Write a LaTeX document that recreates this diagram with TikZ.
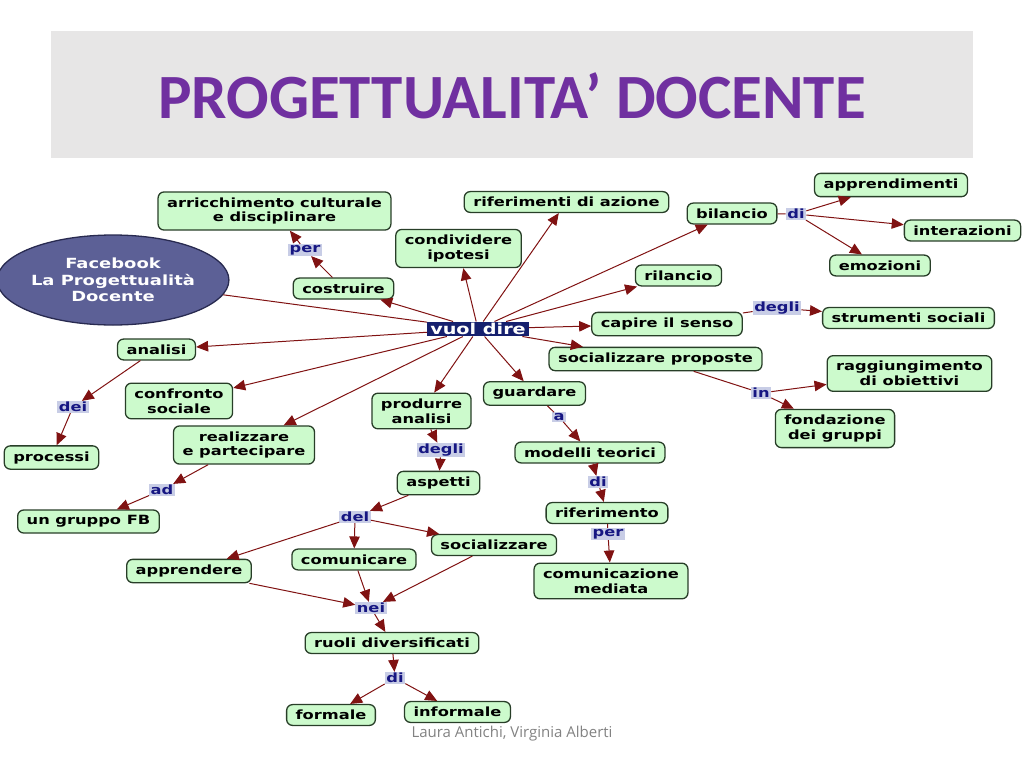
\documentclass[tikz,border=0pt]{standalone}
\usepackage{fontspec}
\usepackage{tikz}
\usetikzlibrary{arrows.meta,shapes.geometric}
\newfontface\mapfont{DejaVu Sans Bold}[FakeStretch=1.28]
\newfontfamily\titlefont{Carlito}
\newfontfamily\footfont{Open Sans}
\definecolor{titlegray}{RGB}{231,230,230}
\definecolor{titlepurple}{RGB}{112,48,160}
\definecolor{confill}{RGB}{204,250,204}
\definecolor{conborder}{RGB}{40,62,40}
\definecolor{linkred}{RGB}{128,18,18}
\definecolor{phrfill}{RGB}{200,205,230}
\definecolor{phrtext}{RGB}{22,22,130}
\definecolor{vuolfill}{RGB}{22,32,110}
\definecolor{fbfill}{RGB}{92,96,150}
\definecolor{fbborder}{RGB}{40,42,80}
\definecolor{footgray}{RGB}{130,130,130}
\tikzset{%
	concept/.style = {draw=conborder, fill=confill, rounded corners=6pt, line width=1.3pt, inner xsep=9pt, inner ysep=5.5pt, align=center, font=\mapfont\fontsize{12.7}{14.8}\selectfont},
	phrase/.style  = {fill=phrfill, text=phrtext, inner xsep=1.5pt, inner ysep=1pt, font=\mapfont\fontsize{12.7}{12.7}\selectfont},
	vuolbox/.style = {fill=vuolfill, text=white, inner xsep=3pt, inner ysep=1.5pt, font=\mapfont\fontsize{15}{15}\selectfont},
	fbnode/.style  = {draw=fbborder, fill=fbfill, ellipse, line width=1.3pt, minimum width=218pt, minimum height=90pt, inner sep=0pt, align=center, text=white, font=\mapfont\fontsize{14}{16.5}\selectfont},
	link/.style    = {draw=linkred, line width=1pt},
	arrow/.style   = {link, -{Triangle[length=12pt,width=10.5pt]}},
}

\begin{document}
\begin{tikzpicture}[x=1pt,y=-1pt]
	\useasboundingbox (0,0) rectangle (1024,768);
	\fill[titlegray] (51,31) rectangle (973,158);
	\node[text=titlepurple, font=\titlefont\bfseries\fontsize{63}{63}\selectfont] (titolo) at (512,96) {PROGETTUALITA’ DOCENTE};
	\node[text=footgray, font=\footfont\fontsize{15}{15}\selectfont] (autori) at (512,734) {Laura Antichi, Virginia Alberti};
	
	% concetti
	\node[fbnode] (fb) at (113,280) {Facebook\\La Progettualità\\Docente};
	\node[vuolbox] (vuol) at (478,329) {vuol dire};
	\node[concept] (arricch) at (274.5,211) {arricchimento culturale\\e disciplinare};
	\node[concept] (costruire) at (343.5,288.5) {costruire};
	\node[concept] (condiv) at (458.5,248.5) {condividere\\ipotesi};
	\node[concept] (rifaz) at (566.5,202) {riferimenti di azione};
	\node[concept] (bilancio) at (732,213.5) {bilancio};
	\node[concept] (apprend) at (891,185) {apprendimenti};
	\node[concept] (interaz) at (962.5,230.5) {interazioni};
	\node[concept] (emoz) at (880,265.5) {emozioni};
	\node[concept] (rilancio) at (678.5,275.5) {rilancio};
	\node[concept] (capire) at (667,324) {capire il senso};
	\node[concept] (strum) at (908.5,318) {strumenti sociali};
	\node[concept] (socprop) at (655.5,359) {socializzare proposte};
	\node[concept] (ragg) at (909.5,373.5) {raggiungimento\\di obiettivi};
	\node[concept] (fond) at (835,428.5) {fondazione\\dei gruppi};
	\node[concept] (analisi) at (156.5,349.5) {analisi};
	\node[concept] (processi) at (51.5,457.5) {processi};
	\node[concept] (confronto) at (179,401) {confronto\\sociale};
	\node[concept] (realizz) at (244,445) {realizzare\\e partecipare};
	\node[concept] (gruppofb) at (88.5,521.5) {un gruppo FB};
	\node[concept] (produrre) at (421.5,411) {produrre\\analisi};
	\node[concept] (aspetti) at (438.5,483) {aspetti};
	\node[concept] (guardare) at (534.5,393.5) {guardare};
	\node[concept] (modelli) at (590,452.5) {modelli teorici};
	\node[concept] (riferim) at (607,513) {riferimento};
	\node[concept] (comunmed) at (611,581) {comunicazione\\mediata};
	\node[concept] (apprendere) at (189,571) {apprendere};
	\node[concept] (comunicare) at (354,559.5) {comunicare};
	\node[concept] (socializz) at (494,545) {socializzare};
	\node[concept] (ruoli) at (392,643) {ruoli diversificati};
	\node[concept] (formale) at (331,715) {formale};
	\node[concept] (informale) at (457.5,712) {informale};
	
	% frasi di legame
	\node[phrase] (per1) at (305,250) {per};
	\node[phrase] (di1) at (796,214) {di};
	\node[phrase] (degli1) at (777,308) {degli};
	\node[phrase] (in1) at (761,393) {in};
	\node[phrase] (dei1) at (73,407) {dei};
	\node[phrase] (ad1) at (162,490) {ad};
	\node[phrase] (degli2) at (441,450) {degli};
	\node[phrase] (a1) at (559,417) {a};
	\node[phrase] (di2) at (598,482) {di};
	\node[phrase] (per2) at (608,534) {per};
	\node[phrase] (del1) at (355,517) {del};
	\node[phrase] (nei1) at (371,608) {nei};
	\node[phrase] (di3) at (395,678) {di};
	
	% collegamenti
	\draw[link] (fb) -- (vuol);
	\foreach \t in {costruire,condiv,rifaz,bilancio,rilancio,capire,socprop,analisi,confronto,realizz,produrre,guardare} \draw[arrow] (vuol) -- (\t);
	\draw[arrow] (costruire) -- (per1);
	\draw[arrow] (per1) -- (arricch);
	\draw[link] (bilancio) -- (di1);
	\foreach \t in {apprend,interaz,emoz} \draw[arrow] (di1) -- (\t);
	\draw[link] (capire) -- (degli1);
	\draw[arrow] (degli1) -- (strum);
	\draw[link] (socprop) -- (in1);
	\draw[arrow] (in1) -- (ragg);
	\draw[arrow] (in1) -- (fond);
	\draw[arrow] (analisi) -- (dei1);
	\draw[arrow] (dei1) -- (processi);
	\draw[arrow] (realizz) -- (ad1);
	\draw[arrow] (ad1) -- (gruppofb);
	\draw[arrow] (produrre) -- (degli2);
	\draw[arrow] (degli2) -- (aspetti);
	\draw[link] (guardare) -- (a1);
	\draw[arrow] (a1) -- (modelli);
	\draw[arrow] (modelli) -- (di2);
	\draw[arrow] (di2) -- (riferim);
	\draw[link] (riferim) -- (per2);
	\draw[arrow] (per2) -- (comunmed);
	\draw[arrow] (aspetti) -- (del1);
	\foreach \t in {apprendere,comunicare,socializz} \draw[arrow] (del1) -- (\t);
	\foreach \t in {apprendere,comunicare,socializz} \draw[arrow] (\t) -- (nei1);
	\draw[arrow] (nei1) -- (ruoli);
	\draw[arrow] (ruoli) -- (di3);
	\draw[arrow] (di3) -- (formale);
	\draw[arrow] (di3) -- (informale);
\end{tikzpicture}
\end{document}
